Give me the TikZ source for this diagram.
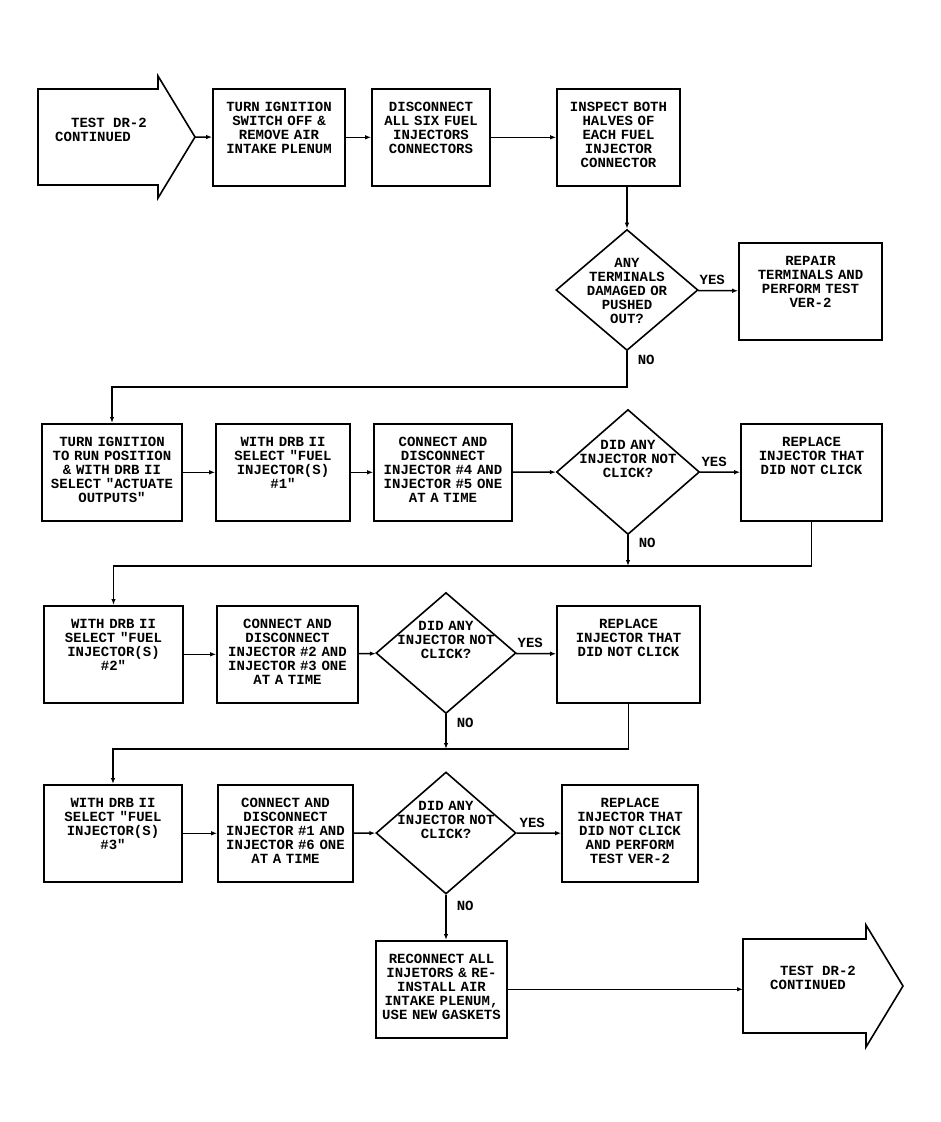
\documentclass[tikz,border=0pt]{standalone}
\usepackage{fontspec}
\newfontfamily\plotfont{Liberation Mono}
\usetikzlibrary{arrows.meta,positioning,shapes.geometric}

\begin{document}
\begin{tikzpicture}[x=1pt,y=-1pt,
    font=\plotfont\bfseries\fontsize{14}{14}\selectfont,
    box/.style={draw,line width=1.6pt,anchor=north,align=center,
                inner xsep=2pt,inner ysep=3pt,text width=#1,
                text height=20pt,text depth=71pt},
    ask/.style={draw,diamond,line width=1.6pt,align=center,text width=104pt,
                inner xsep=-24pt,inner ysep=-24pt,
                minimum width=142pt,minimum height=121pt,
                text height=0pt,text depth=44.7pt},
    outline/.style={draw,line width=1.6pt},
    endtext/.style={align=left,inner sep=0pt,anchor=west},
    arr/.style={line width=1.5pt,-{Latex[length=6pt,width=4.5pt]}},
    yes/.style={above=5pt,pos=0.35,inner sep=0pt},
    no/.style={anchor=west,pos=0.25,xshift=10pt,inner sep=0pt}]
  \useasboundingbox (0,0) rectangle (940,1122);

  % entry arrow
  \draw[outline] (38,89) -- (158,89) -- (158,76) -- (195,137) -- (158,198)
    -- (158,185) -- (38,185) -- cycle;
  \node[endtext] (start) at (55,130) {\hspace*{16pt}TEST DR-2\\CONTINUED};
  \coordinate (starttip) at (195,137);

  % first row
  \node[box=128pt] (off) at (279,88) {TURN IGNITION\\SWITCH OFF \&\\REMOVE AIR\\INTAKE PLENUM};
  \node[box=114pt] (disc) at (431,88) {DISCONNECT\\ALL SIX FUEL\\INJECTORS\\CONNECTORS};
  \node[box=119pt] (insp) at (618.5,88) {INSPECT BOTH\\HALVES OF\\EACH FUEL\\INJECTOR\\CONNECTOR};
  \node[ask] (dterm) at (627,290) {ANY\\TERMINALS\\DAMAGED OR\\PUSHED\\OUT?};
  \node[box=139pt] (fix) at (810.5,242) {REPAIR\\TERMINALS AND\\PERFORM TEST\\VER-2};

  % second row
  \node[box=136pt] (run) at (112,423) {TURN IGNITION\\TO RUN POSITION\\\& WITH DRB II\\SELECT "ACTUATE\\OUTPUTS"};
  \node[box=130pt] (sel1) at (283,423) {WITH DRB II\\SELECT "FUEL\\INJECTOR(S)\\\#1"};
  \node[box=134pt] (inj45) at (443,423) {CONNECT AND\\DISCONNECT\\INJECTOR \#4 AND\\INJECTOR \#5 ONE\\AT A TIME};
  \node[ask,minimum width=143pt,minimum height=125pt] (dclick1) at (628,472) {DID ANY\\INJECTOR NOT\\CLICK?};
  \node[box=137pt] (repl1) at (811.5,423) {REPLACE\\INJECTOR THAT\\DID NOT CLICK};

  % third row
  \node[box=135pt] (sel2) at (113.5,605) {WITH DRB II\\SELECT "FUEL\\INJECTOR(S)\\\#2"};
  \node[box=137pt] (inj23) at (287.5,605) {CONNECT AND\\DISCONNECT\\INJECTOR \#2 AND\\INJECTOR \#3 ONE\\AT A TIME};
  \node[ask,minimum width=140pt] (dclick2) at (446,653) {DID ANY\\INJECTOR NOT\\CLICK?};
  \node[box=139pt] (repl2) at (628.5,605) {REPLACE\\INJECTOR THAT\\DID NOT CLICK};

  % fourth row
  \node[box=134pt] (sel3) at (113,784) {WITH DRB II\\SELECT "FUEL\\INJECTOR(S)\\\#3"};
  \node[box=131pt] (inj16) at (285.5,784) {CONNECT AND\\DISCONNECT\\INJECTOR \#1 AND\\INJECTOR \#6 ONE\\AT A TIME};
  \node[ask,minimum width=140pt,minimum height=122pt] (dclick3) at (446,833) {DID ANY\\INJECTOR NOT\\CLICK?};
  \node[box=132pt] (repl3) at (630,784) {REPLACE\\INJECTOR THAT\\DID NOT CLICK\\AND PERFORM\\TEST VER-2};

  % last row
  \node[box=127pt] (recon) at (441.5,940) {RECONNECT ALL\\INJETORS \& RE-\\INSTALL AIR\\INTAKE PLENUM,\\USE NEW GASKETS};
  \draw[outline] (743,939) -- (866,939) -- (866,925) -- (903,986) -- (866,1047)
    -- (866,1033) -- (743,1033) -- cycle;
  \node[endtext] (finish) at (770,978) {\hspace*{10pt}TEST DR-2\\CONTINUED};
  \coordinate (finishtail) at (743,986);

  % junctions
  \coordinate (j0) at (627,387);
  \coordinate (j1) at (628,566);
  \coordinate (j2) at (446,749);

  \draw[arr] (starttip) -- (off);
  \draw[arr] (off) -- (disc);
  \draw[arr] (disc) -- (insp);
  \draw[arr] (insp.south -| dterm.north) -- (dterm.north);
  \draw[arr] (dterm) -- node[yes]{YES} (fix);
  \draw[arr] (dterm) -- node[no]{NO} (j0) -| (run);

  \draw[arr] (run) -- (sel1);
  \draw[arr] (sel1) -- (inj45);
  \draw[arr] (inj45) -- (dclick1);
  \draw[arr] (dclick1) -- node[yes]{YES} (repl1);
  \draw[arr] (dclick1) -- node[no]{NO} (j1);
  \draw[arr] (repl1) |- (j1) -| (sel2);

  \draw[arr] (sel2) -- (inj23);
  \draw[arr] (inj23) -- (dclick2);
  \draw[arr] (dclick2) -- node[yes]{YES} (repl2);
  \draw[arr] (dclick2) -- node[no]{NO} (j2);
  \draw[arr] (repl2) |- (j2) -| (sel3);

  \draw[arr] (sel3) -- (inj16);
  \draw[arr] (inj16) -- (dclick3);
  \draw[arr] (dclick3) -- node[yes]{YES} (repl3);
  \draw[arr] (dclick3.south) -- node[no]{NO} (dclick3.south |- recon.north);
  \draw[arr] (recon) -- (recon -| finishtail);
\end{tikzpicture}
\end{document}
